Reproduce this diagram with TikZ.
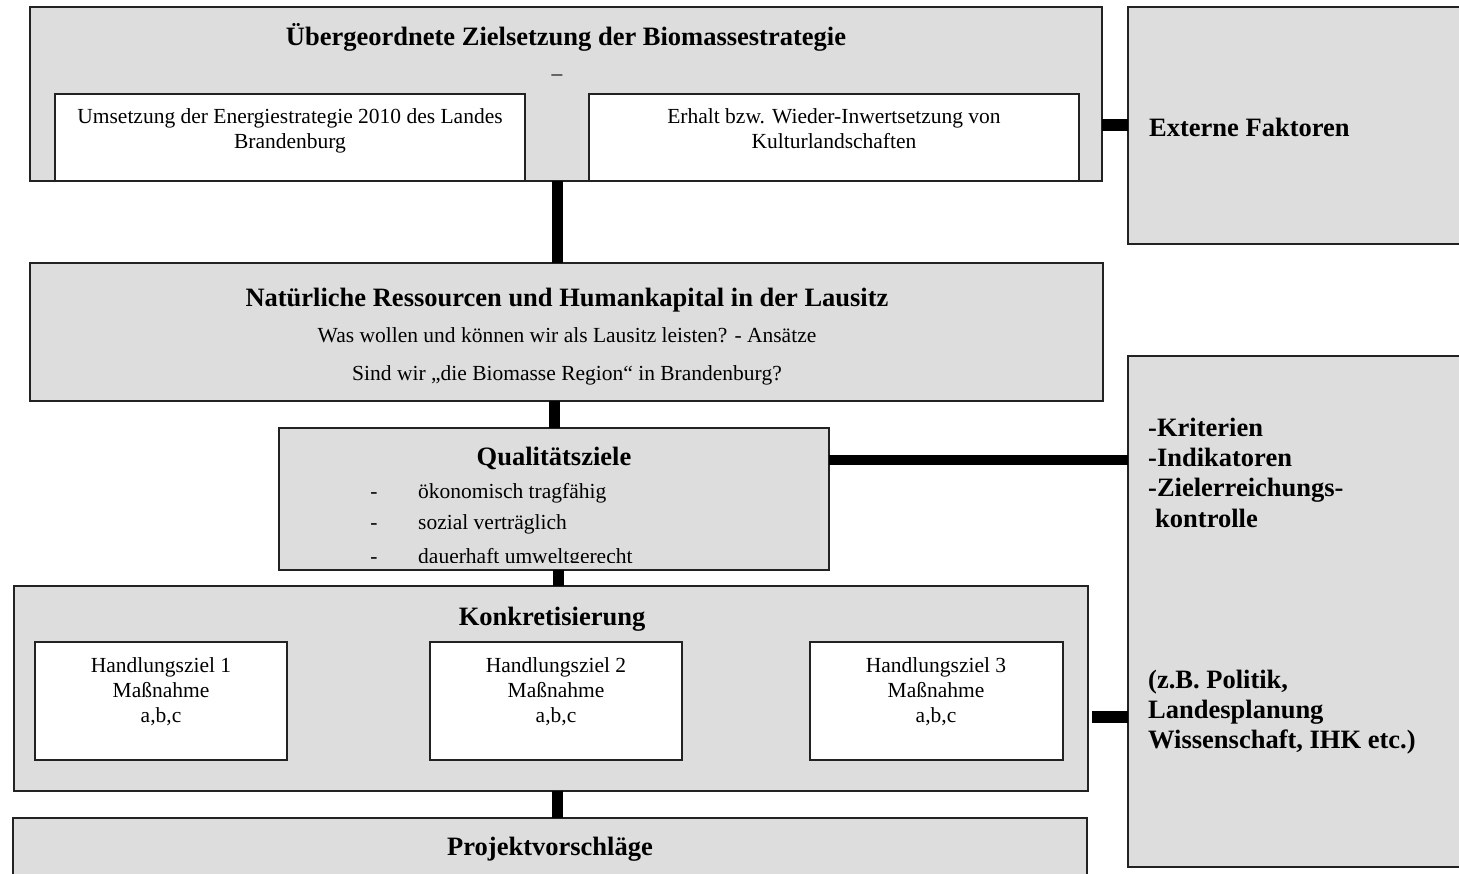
\documentclass[tikz,border=0pt]{standalone}
\usepackage{fontspec}
\setmainfont{Liberation Serif}
\definecolor{boxgray}{HTML}{DDDDDD}
\definecolor{edge}{HTML}{222222}
\begin{document}
\begin{tikzpicture}[x=1pt,y=-1pt,
  box/.style={draw=edge, line width=1.6pt, inner sep=0pt, outer sep=0pt, anchor=north west},
  graybox/.style={box, fill=boxgray},
  whitebox/.style={box, fill=white},
  ttl/.style={font=\fontsize{26.5}{30}\selectfont\bfseries, inner sep=0pt, anchor=base},
  body/.style={font=\fontsize{21.5}{25}\selectfont, inner sep=0pt, anchor=base, align=center},
  side/.style={font=\fontsize{26.5}{30.3}\selectfont\bfseries, inner sep=0pt, anchor=base west, align=left},
  conn/.style={line width=11pt}]
\useasboundingbox (0,0) rectangle (1459,874);

% boxes
\node[graybox, minimum width=1072pt, minimum height=174pt] (ziel) at (30,7) {};
\node[whitebox, minimum width=470pt, minimum height=87pt] (w1) at (55,94) {};
\node[whitebox, minimum width=490pt, minimum height=87pt] (w2) at (589,94) {};
\node[graybox, minimum width=345pt, minimum height=237pt] (ext) at (1128,7) {};
\node[graybox, minimum width=1073pt, minimum height=138pt] (nat) at (30,263) {};
\node[graybox, minimum width=550pt, minimum height=142pt] (qual) at (279,428) {};
\node[graybox, minimum width=345pt, minimum height=511pt] (krit) at (1128,356) {};
\node[graybox, minimum width=1074pt, minimum height=205pt] (konk) at (14,586) {};
\node[whitebox, minimum width=252pt, minimum height=118pt] (h1) at (35,642) {};
\node[whitebox, minimum width=252pt, minimum height=118pt] (h2) at (430,642) {};
\node[whitebox, minimum width=253pt, minimum height=118pt] (h3) at (810,642) {};
\node[graybox, minimum width=1074pt, minimum height=80pt] (proj) at (13,818) {};

% connectors
\coordinate (c1) at (557,0);
\coordinate (c2) at (554,0);
\coordinate (c3) at (558,0);
\coordinate (r1) at (0,125);
\coordinate (r2) at (0,460);
\coordinate (kk) at (1092,717);
\draw[conn] (ziel.south -| c1) -- (nat.north -| c1);
\draw[conn] (nat.south -| c2) -- (qual.north -| c2);
\draw[conn] (qual.south -| c3) -- (konk.north -| c3);
\draw[conn] (konk.south -| c1) -- (proj.north -| c1);
\draw[line width=12pt] (ziel.east |- r1) -- (ext.west |- r1);
\draw[line width=10pt] (qual.east |- r2) -- (krit.west |- r2);
\draw[line width=12pt] (kk) -- (krit.west |- kk);

% texts (anchor=base of a multi-line node is the baseline of its last line)
\node[ttl] (zieltitle) at (566,46) {Übergeordnete Zielsetzung der Biomassestrategie};
\node[body] (zieldash) at (557,81) {–};
\node[body] (w1t) at (290,149) {Umsetzung der Energiestrategie 2010 des Landes\\Brandenburg};
\node[body] (w2t) at (834,149) {Erhalt bzw. Wieder-Inwertsetzung von\\Kulturlandschaften};
\node[side] (extt) at (1149,137) {Externe Faktoren};

\node[ttl] (natt) at (567,307) {Natürliche Ressourcen und Humankapital in der Lausitz};
\node[body] (nat2) at (567,343) {Was wollen und können wir als Lausitz leisten? - Ansätze};
\node[body] (nat3) at (567,381) {Sind wir „die Biomasse Region“ in Brandenburg?};

\node[ttl] (qualt) at (554,465) {Qualitätsziele};
\node[body] (d1) at (374,498) {-};
\node[body, anchor=base west] (q1) at (418,498) {ökonomisch tragfähig};
\node[body] (d2) at (374,529) {-};
\node[body, anchor=base west] (q2) at (418,529) {sozial verträglich};
\begin{scope}
\clip (280,429) rectangle (828,562);
\node[body] (d3) at (374,563) {-};
\node[body, anchor=base west] (q3) at (418,563) {dauerhaft umweltgerecht};
\end{scope}

\node[side] (kritt) at (1148,527) {-Kriterien\\-Indikatoren\\-Zielerreichungs-\\\hspace*{7pt}kontrolle};
\node[side, font=\fontsize{26.5}{29.6}\selectfont\bfseries] (bsp) at (1148,748) {(z.B. Politik,\\Landesplanung\\Wissenschaft, IHK etc.)};

\node[ttl] (konkt) at (552,625) {Konkretisierung};
\node[body] (h1t) at (161,722) {Handlungsziel 1\\Maßnahme\\a,b,c};
\node[body] (h2t) at (556,722) {Handlungsziel 2\\Maßnahme\\a,b,c};
\node[body] (h3t) at (936,722) {Handlungsziel 3\\Maßnahme\\a,b,c};

\node[ttl] (projt) at (550,855) {Projektvorschläge};
\end{tikzpicture}
\end{document}
